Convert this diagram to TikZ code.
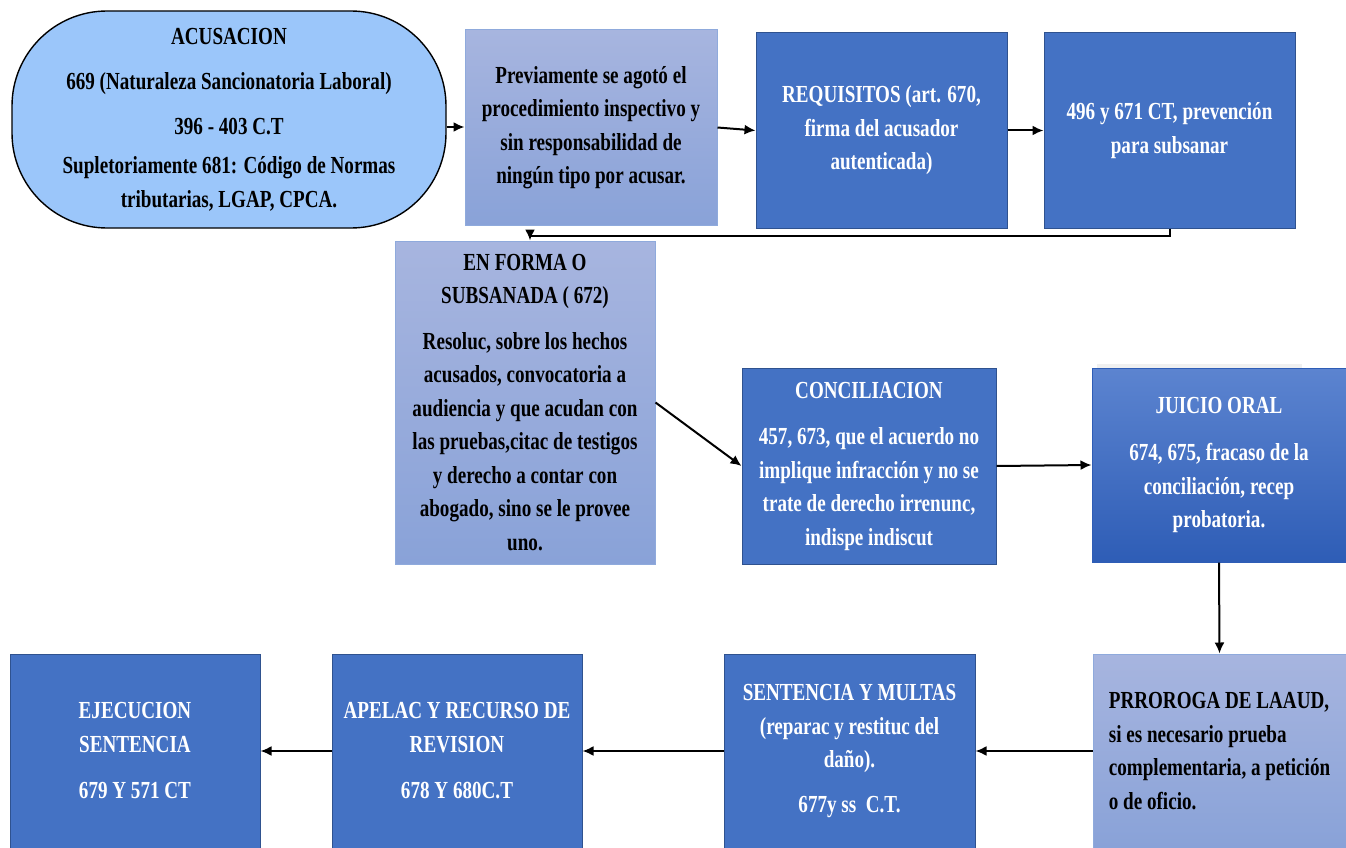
\documentclass[tikz,border=0pt]{standalone}
\usepackage{fontspec}
\setmainfont{Liberation Serif}[FakeStretch=0.78]
\usetikzlibrary{arrows.meta}
\definecolor{acufill}{RGB}{155,198,250}
\definecolor{dk}{RGB}{68,114,196}
\definecolor{dkborder}{RGB}{47,82,143}
\definecolor{ltA}{RGB}{167,181,223}
\definecolor{ltB}{RGB}{137,162,216}
\definecolor{ltborder}{RGB}{143,170,220}
\definecolor{juA}{RGB}{92,132,208}
\definecolor{juB}{RGB}{46,93,182}
\tikzset{
  txt/.style={inner sep=0pt, align=center, font=\bfseries\fontsize{24.5}{33.5}\selectfont},
  darkbox/.style={txt, fill=dk, draw=dkborder, line width=1pt, text=white},
  lightbox/.style={txt, top color=ltA, bottom color=ltB, draw=ltborder, line width=1pt, text=black},
  conn/.style={line width=2pt, -{Latex[length=11pt,width=10pt]}}
}
\begin{document}
\begin{tikzpicture}[x=1pt,y=-1pt]
\useasboundingbox (0,0) rectangle (1346,848);
\fill[white] (0,0) rectangle (1346,848);

\node[txt, fill=acufill, draw=black, line width=1.4pt, rounded corners=95pt,
      minimum width=434pt, minimum height=217pt] (acu) at (229,119.5)
  {ACUSACION\\[12pt]669 (Naturaleza Sancionatoria Laboral)\\[11pt]396 - 403 C.T\\[6pt]Supletoriamente 681: Código de Normas\\tributarias, LGAP, CPCA.};

\node[lightbox, minimum width=252pt, minimum height=195pt] (prev) at (591,127.5)
  {Previamente se agotó el\\procedimiento inspectivo y\\sin responsabilidad de\\ningún tipo por acusar.};

\node[darkbox, minimum width=251pt, minimum height=195pt] (req) at (881.5,130.5)
  {REQUISITOS (art. 670,\\firma del acusador\\autenticada)};

\node[darkbox, minimum width=251pt, minimum height=195pt] (n496) at (1169.5,130.5)
  {496 y 671 CT, prevención\\para subsanar};

\node[lightbox, minimum width=260pt, minimum height=323pt] (enf) at (525,402.5)
  {EN FORMA O\\SUBSANADA ( 672)\\[12pt]Resoluc, sobre los hechos\\acusados, convocatoria a\\audiencia y que acudan con\\las pruebas,citac de testigos\\y derecho a contar con\\abogado, sino se le provee\\uno.};

\node[darkbox, minimum width=254pt, minimum height=196pt] (conc) at (869,466)
  {CONCILIACION\\[13pt]457, 673, que el acuerdo no\\implique infracción y no se\\trate de derecho irrenunc,\\indispe indiscut};

\fill[gray!12] (1097,364) rectangle (1302,560);
\node[txt, top color=juA, bottom color=juB, draw=juB, line width=1pt, text=white,
      minimum width=254pt, minimum height=194pt] (jui) at (1219,465)
  {JUICIO ORAL\\[14pt]674, 675, fracaso de la\\conciliación, recep\\probatoria.};

\node[lightbox, align=left, minimum width=253pt, minimum height=194pt] (prr) at (1219.5,751)
  {PRROROGA DE LAAUD,\\si es necesario prueba\\complementaria, a petición\\o de oficio.};

\node[darkbox, minimum width=251pt, minimum height=194pt] (sent) at (849.5,751)
  {SENTENCIA Y MULTAS\\(reparac y restituc del\\daño).\\[11pt]677y ss\ \ C.T.};

\node[darkbox, minimum width=250pt, minimum height=194pt] (apel) at (457,751)
  {APELAC Y RECURSO DE\\REVISION\\[13pt]678 Y 680C.T};

\node[darkbox, minimum width=250pt, minimum height=194pt] (eje) at (135,751)
  {EJECUCION\\SENTENCIA\\[13pt]679 Y 571 CT};

\draw[conn] (acu.east |- 0,127) -- (prev.west |- 0,127);
\draw[conn] (prev.east) -- (req.west);
\draw[conn] (req.east) -- (n496.west);
\draw[conn] (n496.south) -- ++(0,7) -| ([xshift=5pt]enf.north);
\draw[conn] (enf.east) -- (conc.west);
\draw[conn] (conc.east) -- (jui.west);
\draw[conn] (jui.south) -- (prr.north);
\draw[conn] (prr.west) -- (sent.east);
\draw[conn] (sent.west) -- (apel.east);
\draw[conn] (apel.west) -- (eje.east);
\end{tikzpicture}
\end{document}
